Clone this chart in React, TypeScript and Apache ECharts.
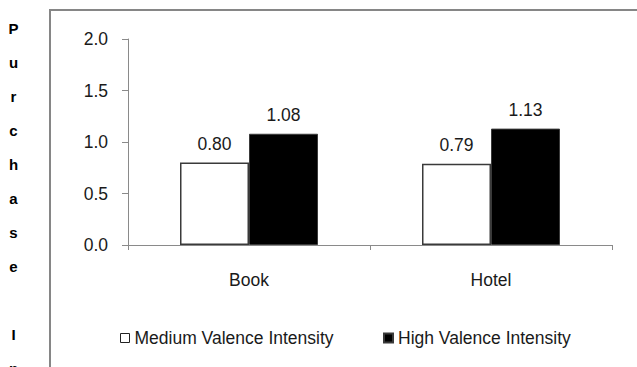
import React, { useEffect, useRef } from "react";
import * as echarts from "echarts";

const categories = ["Book", "Hotel"];
const seriesNames = ["Medium Valence Intensity", "High Valence Intensity"];
const mediumValues = [0.8, 0.79];
const highValues = [1.08, 1.13];
const yTicks = ["0.0", "0.5", "1.0", "1.5", "2.0"];
const yAxisTitle = "Purchase In";

const FONT = "Arial, 'Liberation Sans', sans-serif";
const TEXT = "#1a1a1a";
const AXIS = "#8a8a8a";

export default function App() {
  const ref = useRef<HTMLDivElement>(null);

  useEffect(() => {
    if (!ref.current) return;
    const chart = echarts.init(ref.current, null, { renderer: "svg" });

    // Stacked letters of the vertical axis title, one per line
    const titleLetters = yAxisTitle.split("").map((ch, i) => ({
      type: "text",
      x: 13.5,
      y: 28 + i * 34,
      silent: true,
      style: {
        text: ch,
        fill: "#000",
        fontSize: 15,
        fontWeight: "bold",
        fontFamily: FONT,
        textAlign: "center",
        textVerticalAlign: "middle",
      },
    }));

    const barLabel = {
      show: true,
      position: "top",
      distance: 10,
      color: TEXT,
      fontFamily: FONT,
      fontSize: 17.5,
      formatter: (p: any) => Number(p.value).toFixed(2),
    };

    const legendBase = {
      top: 329,
      padding: 0,
      icon: "rect",
      itemWidth: 9,
      itemHeight: 9,
      itemGap: 0,
      textStyle: { color: TEXT, fontSize: 17.5, fontFamily: FONT, padding: [0, 0, 0, 0] },
    };

    chart.setOption({
      animation: false,
      backgroundColor: "#fff",
      textStyle: { fontFamily: FONT },
      graphic: [
        {
          type: "rect",
          shape: { x: 50, y: 10, width: 700, height: 420 },
          style: { fill: "none", stroke: "#868686", lineWidth: 2 },
          silent: true,
          z: -1,
        },
        ...titleLetters,
      ],
      grid: { left: 128, right: 25, top: 39, bottom: 122, containLabel: false },
      legend: [
        {
          ...legendBase,
          left: 120,
          data: [
            {
              name: seriesNames[0],
              itemStyle: { color: "#fff", borderColor: "#222", borderWidth: 1 },
            },
          ],
        },
        {
          ...legendBase,
          left: 383,
          data: [{ name: seriesNames[1], itemStyle: { color: "#000" } }],
        },
      ],
      xAxis: {
        type: "category",
        data: categories,
        axisLine: { show: true, lineStyle: { color: AXIS, width: 1 } },
        axisTick: { show: true, length: 5, lineStyle: { color: AXIS } },
        axisLabel: { color: TEXT, fontSize: 17.5, fontFamily: FONT, margin: 26 },
        splitLine: { show: false },
      },
      yAxis: {
        type: "value",
        min: 0,
        max: 2,
        interval: 0.5,
        axisLine: { show: true, lineStyle: { color: AXIS, width: 1 } },
        axisTick: { show: true, length: 6, lineStyle: { color: AXIS } },
        axisLabel: {
          color: TEXT,
          fontSize: 17.5,
          fontFamily: FONT,
          margin: 20,
          formatter: (v: number) => yTicks[Math.round(v / 0.5)] ?? v.toFixed(1),
        },
        splitLine: { show: false },
      },
      series: [
        {
          name: seriesNames[0],
          type: "bar",
          data: mediumValues,
          barWidth: 69,
          barGap: "0%",
          itemStyle: { color: "#fff", borderColor: "#3a3a3a", borderWidth: 1.5 },
          label: barLabel,
        },
        {
          name: seriesNames[1],
          type: "bar",
          data: highValues,
          barWidth: 69,
          barGap: "0%",
          itemStyle: { color: "#000", borderColor: "#3a3a3a", borderWidth: 1 },
          label: barLabel,
        },
      ],
    });

    return () => chart.dispose();
  }, []);

  return (
    <div
      ref={ref}
      style={{ position: "fixed", left: 0, top: 0, width: 637, height: 367 }}
    />
  );
}
